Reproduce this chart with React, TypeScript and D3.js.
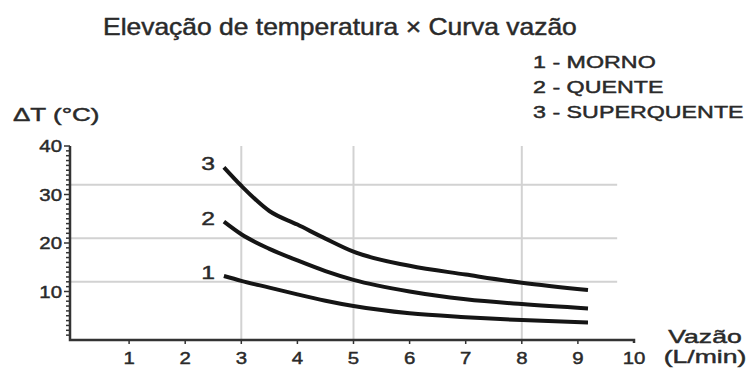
import * as React from "react";
import * as d3 from "d3";

// vazão (L/min) where the curves were sampled
const flowX = [2.69, 3.0, 3.5, 4.0, 4.5, 5.0, 6.0, 7.0, 8.0, 9.18];
// ΔT (°C) per curve
const morno = [13.2, 12.2, 10.8, 9.4, 8.1, 7.0, 5.5, 4.7, 4.1, 3.6];
const quente = [24.4, 21.8, 18.8, 16.4, 14.2, 12.4, 10.0, 8.4, 7.4, 6.5];
const superquente = [35.6, 31.8, 26.6, 23.8, 20.9, 18.2, 15.3, 13.5, 11.8, 10.3];

const curveLabels = ["1", "2", "3"];
const legendItems = ["1 - MORNO", "2 - QUENTE", "3 - SUPERQUENTE"];
const xTicks = [1, 2, 3, 4, 5, 6, 7, 8, 9, 10];
const yTicks = [10, 20, 30, 40];
const gridX = [3, 5, 8];
const gridY = [12, 21, 32];

const W = 751;
const H = 368;
const FONT = "'Liberation Sans', Arial, sans-serif";
const INK = "#2a2a2a";

function stretchText(g, str, x, y, size, sx, anchor = "start") {
  g.append("text")
    .attr("transform", `translate(${x},${y}) scale(${sx},1)`)
    .attr("font-size", size)
    .attr("text-anchor", anchor)
    .attr("fill", INK)
    .attr("stroke", INK)
    .attr("stroke-width", 0.45)
    .text(str);
}

function drawChart(svgEl) {
  const svg = d3.select(svgEl);
  svg.selectAll("*").remove();
  svg.attr("font-family", FONT);

  const x = d3.scaleLinear().domain([0, 10]).range([73, 634]);
  const y = d3.scaleLinear().domain([0, 40]).range([340, 146]);
  const axisX = 70;

  // grid
  const grid = svg.append("g").attr("stroke", "#d2d2d2").attr("stroke-width", 2);
  grid.selectAll("line.gx").data(gridX).join("line")
    .attr("x1", d => x(d)).attr("x2", d => x(d))
    .attr("y1", y(40)).attr("y2", y(0));
  grid.selectAll("line.gy").data(gridY).join("line")
    .attr("x1", axisX).attr("x2", x(9.7))
    .attr("y1", d => y(d)).attr("y2", d => y(d));

  // axes
  const ax = svg.append("g").attr("stroke", "#333").attr("fill", "none");
  ax.append("path")
    .attr("stroke-width", 2.5)
    .attr("d", `M${axisX},${y(40)}V${y(0)}H${x(10)}v3`);
  const minor = d3.range(1, 40);
  ax.selectAll("line.ym").data(minor).join("line")
    .attr("stroke-width", 1.5)
    .attr("x1", axisX).attr("x2", d => axisX - (d % 10 === 0 ? 6 : 4))
    .attr("y1", d => y(d)).attr("y2", d => y(d));
  ax.append("line").attr("stroke-width", 1.5)
    .attr("x1", axisX).attr("x2", axisX - 6).attr("y1", y(40)).attr("y2", y(40));
  ax.selectAll("line.xt").data(xTicks.slice(0, -1)).join("line")
    .attr("stroke-width", 1.5)
    .attr("x1", d => x(d)).attr("x2", d => x(d))
    .attr("y1", y(0)).attr("y2", y(0) + 4);

  const labels = svg.append("g");
  xTicks.forEach(t => stretchText(labels, String(t), x(t), 364, 17, 1.2, "middle"));
  yTicks.forEach(t => stretchText(labels, String(t), 62, y(t) + 6, 17, 1.2, "end"));

  // curves
  const line = d3.line()
    .x(d => x(d[0]))
    .y(d => y(d[1]))
    .curve(d3.curveMonotoneX);
  const series = [morno, quente, superquente];
  series.forEach((vals, i) => {
    const pts = flowX.map((f, j) => [f, vals[j]]);
    svg.append("path")
      .attr("d", line(pts))
      .attr("fill", "none")
      .attr("stroke", "#151515")
      .attr("stroke-width", 4);
    stretchText(labels, curveLabels[i], x(flowX[0]) - 9, y(vals[0]) + 3, 19, 1.3, "end");
  });

  // titles
  stretchText(labels, "Elevação de temperatura × Curva vazão", 103, 35, 23, 1.15);
  legendItems.forEach((s, i) => stretchText(labels, s, 533, 68 + i * 25, 16.5, 1.41));
  stretchText(labels, "ΔT (°C)", 13, 121, 19, 1.37);
  stretchText(labels, "Vazão", 705, 343, 19, 1.4, "middle");
  stretchText(labels, "(L/min)", 705, 363, 19, 1.4, "middle");
}

const App = () => {
  const svg = React.useRef(null);
  React.useEffect(() => {
    drawChart(svg.current);
  }, []);

  return (
    <div style={{ position: "absolute", left: 0, top: 0 }}>
      <svg ref={svg} width={W} height={H} style={{ display: "block", background: "#fff" }}></svg>
    </div>
  );
};

export default App;
